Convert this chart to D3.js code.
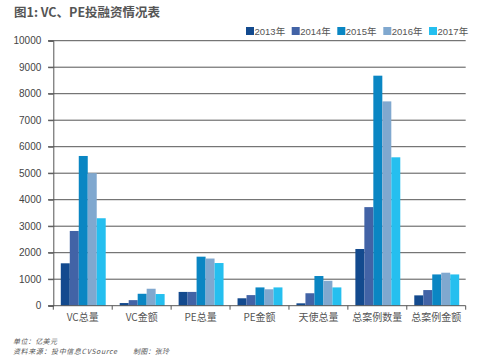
<!DOCTYPE html>
<html><head><meta charset="utf-8">
<script src="https://cdn.jsdelivr.net/npm/d3@7"></script>
<style>
body{margin:0;background:#fff;}
text{font-family:"Noto Sans CJK SC","Noto Sans",sans-serif;}
</style></head>
<body><svg id="c" width="500" height="357"></svg>
<script>
const categories = ["VC总量","VC金额","PE总量","PE金额","天使总量","总案例数量","总案例金额"];
const years = ["2013年","2014年","2015年","2016年","2017年"];
const v2013 = [1600, 100, 520, 280, 90, 2140, 390];
const v2014 = [2820, 210, 520, 400, 470, 3720, 590];
const v2015 = [5650, 450, 1850, 690, 1120, 8680, 1180];
const v2016 = [5000, 640, 1780, 620, 940, 7710, 1245];
const v2017 = [3300, 440, 1610, 690, 690, 5600, 1180];
const yTicks = [0,1000,2000,3000,4000,5000,6000,7000,8000,9000,10000];
const colors = ["#134a8e","#4263a6","#0a86c3","#80a8cf","#25bfef"];

const series = [v2013, v2014, v2015, v2016, v2017];
const svg = d3.select("#c");

const x = d3.scaleBand().domain(categories).range([53.3, 465.7]).paddingInner(0).paddingOuter(0);
const xi = d3.scaleBand().domain(years).range([7.5, x.bandwidth() - 6.5]).padding(0);
const y = d3.scaleLinear().domain([0, 10000]).range([305.7, 40.7]);

// gridlines
svg.append("g").selectAll("line").data(yTicks.filter(t => t > 0)).join("line")
  .attr("x1", 48).attr("x2", 465.7)
  .attr("y1", d => y(d)).attr("y2", d => y(d))
  .attr("stroke", "#555").attr("stroke-width", 1);

// y axis
const ya = svg.append("g").attr("transform", "translate(53.3,0)")
  .call(d3.axisLeft(y).tickValues(yTicks).tickSize(5).tickPadding(7).tickFormat(d3.format("d")));
ya.select(".domain").attr("stroke", "#555");
ya.selectAll(".tick line").attr("stroke", "#555");
ya.selectAll("text").attr("fill", "#444").style("font-size", "10px").style("font-family", "'Liberation Sans',Arial,sans-serif");

// bars
const g = svg.append("g");
categories.forEach((c, ci) => {
  g.selectAll(null).data(years.map((yr, si) => ({yr, si, v: series[si][ci]}))).join("rect")
    .attr("x", d => x(c) + xi(d.yr))
    .attr("width", xi.bandwidth())
    .attr("y", d => y(d.v))
    .attr("height", d => y(0) - y(d.v))
    .attr("fill", d => colors[d.si]);
});

// x axis
const xa = svg.append("g").attr("transform", `translate(0,${y(0)})`);
xa.append("line").attr("x1", 48).attr("x2", 465.7).attr("stroke", "#555");
const bounds = categories.map(c => x(c)).concat([x(categories[categories.length-1]) + x.bandwidth()]);
xa.selectAll(".tk").data(bounds).join("line").attr("class","tk")
  .attr("x1", d => d).attr("x2", d => d).attr("y1", 0).attr("y2", 4).attr("stroke", "#555");
xa.selectAll(".lb").data(categories).join("text").attr("class","lb")
  .attr("x", d => x(d) + x.bandwidth()/2).attr("y", 15)
  .attr("text-anchor", "middle").attr("fill", "#555").style("font-size", "10px")
  .text(d => d);

// title
svg.append("text").attr("x", 14).attr("y", 17).attr("fill", "#555")
  .style("font-size", "12.5px").style("font-weight", "bold").text("图1: VC、PE投融资情况表");

// legend
const lg = svg.append("g");
const lx = [246, 291.7, 337.3, 383.3, 429];
years.forEach((yr, i) => {
  lg.append("rect").attr("x", lx[i]).attr("y", 27).attr("width", 8).attr("height", 8).attr("fill", colors[i]);
  lg.append("text").attr("x", lx[i] + 8.5).attr("y", 34.5).attr("fill", "#555")
    .style("font-size", "9.5px").style("font-family", "'Liberation Sans','Noto Sans CJK SC',sans-serif").text(yr);
});

// footer
const fs = "7px";
function foot(xp, yp, t, len) {
  svg.append("text").attr("x", xp).attr("y", yp).attr("fill", "#555")
    .style("font-size", fs).style("font-style", "italic")
    .attr("textLength", len).attr("lengthAdjust", "spacing").text(t);
}
foot(13, 343.5, "单位：亿美元", 44);
foot(13, 354, "资料来源：投中信息CVSource", 104);
foot(133, 354, "制图：张玲", 36);
</script></body></html>
